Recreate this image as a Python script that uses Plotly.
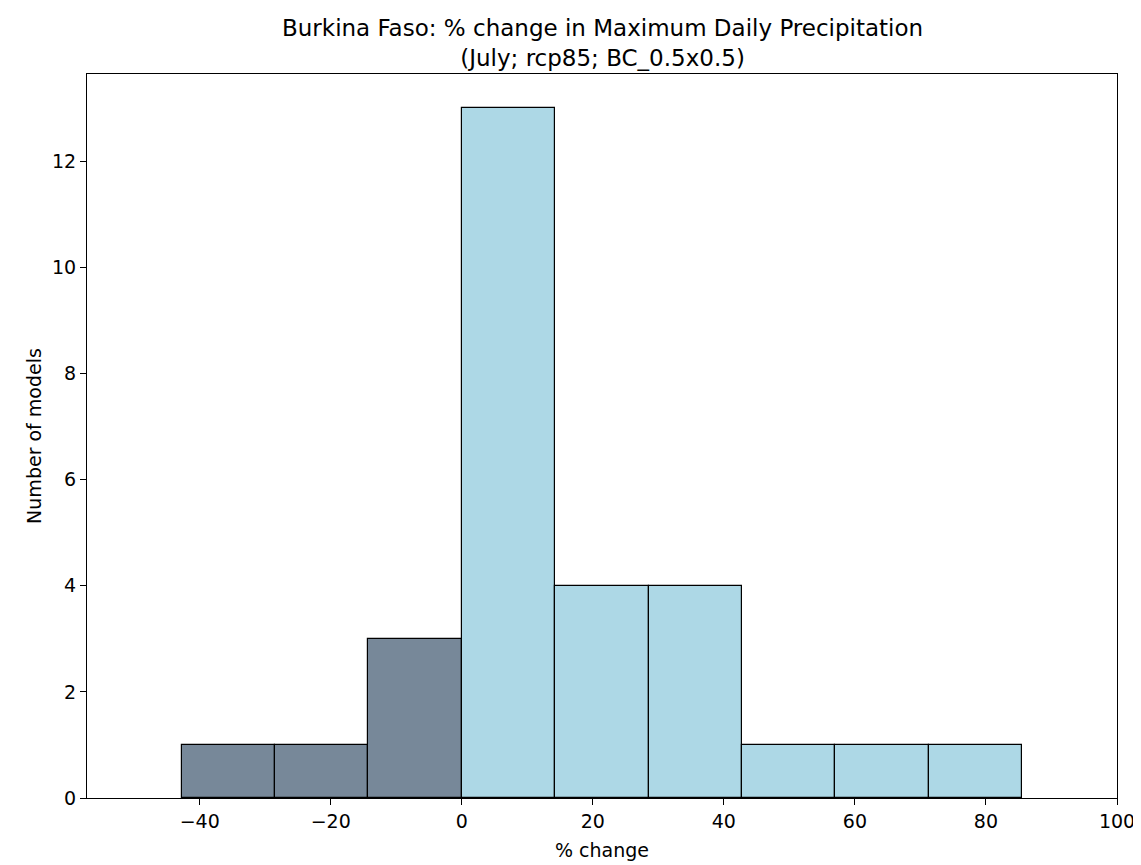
import plotly.graph_objects as go

# Histogram data
bin_edges = [-42.75, -28.5, -14.25, 0.0, 14.25, 28.5, 42.75, 57.0, 71.25, 85.5]
counts = [1, 1, 3, 13, 4, 4, 1, 1, 1]
title_line1 = "Burkina Faso: % change in Maximum Daily Precipitation"
title_line2 = "(July; rcp85; BC_0.5x0.5)"
x_label = "% change"
y_label = "Number of models"

neg_color = "#778899"
pos_color = "#ADD8E6"

centers = [(a + b) / 2 for a, b in zip(bin_edges[:-1], bin_edges[1:])]
widths = [b - a for a, b in zip(bin_edges[:-1], bin_edges[1:])]
colors = [neg_color if b <= 0 else pos_color for b in bin_edges[1:]]

fig = go.Figure()
fig.add_trace(go.Bar(
    x=centers, y=counts, width=widths,
    marker=dict(color=colors, line=dict(color="black", width=1.2)),
    showlegend=False,
))

font = "DejaVu Sans, Verdana, sans-serif"
fig.update_layout(
    width=1141, height=865,
    margin=dict(l=79, r=32, t=66, b=75),
    paper_bgcolor="white", plot_bgcolor="white",
    font=dict(family=font, size=19, color="black"),
    bargap=0,
)
fig.add_annotation(
    text=title_line1 + "<br>" + title_line2,
    x=0.5, xref="paper", xanchor="center",
    y=1, yref="paper", yanchor="bottom", yshift=2,
    showarrow=False, align="center", borderpad=0,
    font=dict(family=font, size=23, color="black"),
)
fig.update_xaxes(
    range=[-57.2, 100], dtick=20, tick0=0,
    showgrid=False, zeroline=False,
    showline=True, mirror=True, linecolor="black", linewidth=1.2,
    ticks="outside", ticklen=6, tickcolor="black", tickwidth=1.2,
    title=dict(text=x_label, standoff=12, font=dict(size=19)),
    tickfont=dict(size=19),
)
fig.update_yaxes(
    range=[0, 13.65], dtick=2, tick0=0,
    showgrid=False, zeroline=False,
    showline=True, mirror=True, linecolor="black", linewidth=1.2,
    ticks="outside", ticklen=6, tickcolor="black", tickwidth=1.2,
    title=dict(text=y_label, standoff=5, font=dict(size=19)),
    tickfont=dict(size=19),
)

fig.write_html("out.html")
